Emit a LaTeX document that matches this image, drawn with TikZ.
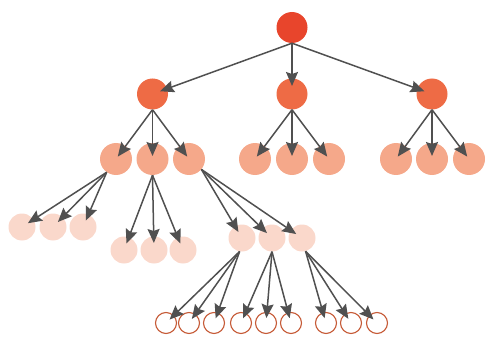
\documentclass[tikz,border=0pt]{standalone}
\usetikzlibrary{arrows.meta}
\definecolor{croot}{HTML}{E8452C}
\definecolor{cone}{HTML}{EE6B45}
\definecolor{ctwo}{HTML}{F5A88A}
\definecolor{cthree}{HTML}{FAD8CB}
\definecolor{cfour}{HTML}{C65A36}
\definecolor{carr}{HTML}{505050}
\begin{document}
\begin{tikzpicture}[x=1pt,y=-1pt,
  dot/.style={circle,inner sep=0pt,draw=none},
  lroot/.style={dot,fill=croot,minimum size=31pt},
  lone/.style={dot,fill=cone,minimum size=31pt},
  ltwo/.style={dot,fill=ctwo,minimum size=32pt},
  lthree/.style={dot,fill=cthree,minimum size=27pt},
  lfour/.style={circle,inner sep=0pt,draw=cfour,line width=1.1pt,fill=white,minimum size=21pt},
  arr/.style={draw=carr,line width=1.5pt,-{Stealth[length=14pt,width=12pt,inset=2pt]}}]
\useasboundingbox (0,0) rectangle (488,337);
% level 0
\node[lroot] (r) at (292,27.5) {};
% level 1
\node[lone] (a) at (152.5,94) {};
\node[lone] (b) at (292,94) {};
\node[lone] (c) at (432,94) {};
% level 2
\node[ltwo] (a1) at (116,159) {};
\node[ltwo] (a2) at (152.5,159) {};
\node[ltwo] (a3) at (189,159) {};
\node[ltwo] (b1) at (255,159) {};
\node[ltwo] (b2) at (292,159) {};
\node[ltwo] (b3) at (329,159) {};
\node[ltwo] (c1) at (396,159) {};
\node[ltwo] (c2) at (432,159) {};
\node[ltwo] (c3) at (469,159) {};
% level 3
\node[lthree] (a11) at (22,227) {};
\node[lthree] (a12) at (53,227) {};
\node[lthree] (a13) at (83,227) {};
\node[lthree] (a21) at (124,250) {};
\node[lthree] (a22) at (154,250) {};
\node[lthree] (a23) at (183,250) {};
\node[lthree] (a31) at (242,238) {};
\node[lthree] (a32) at (272,238) {};
\node[lthree] (a33) at (302,238) {};
% level 4
\node[lfour] (d1) at (166,323) {};
\node[lfour] (d2) at (189,323) {};
\node[lfour] (d3) at (214,323) {};
\node[lfour] (d4) at (241,323) {};
\node[lfour] (d5) at (266,323) {};
\node[lfour] (d6) at (291,323) {};
\node[lfour] (d7) at (326,323) {};
\node[lfour] (d8) at (351,323) {};
\node[lfour] (d9) at (377,323) {};
% arrows
\foreach \c in {a,b,c} \draw[arr,shorten >=8pt] (r.south) -- (\c.center);
\foreach \p in {a,b,c} \foreach \i in {1,2,3} \draw[arr,shorten >=3pt] (\p.south) -- (\p\i.center);
\foreach \i in {1,2,3} \draw[arr,shorten >=7pt] (a1.-125) -- (a1\i.center);
\foreach \i in {1,2,3} \draw[arr,shorten >=7pt] (a2.south) -- (a2\i.center);
\foreach \i in {1,2,3} \draw[arr,shorten >=7pt] (a3.-40) -- (a3\i.center);
\draw[arr,shorten >=5pt] (a31.-100) -- (d1.center);
\draw[arr,shorten >=5pt] (a31.-100) -- (d2.center);
\draw[arr,shorten >=5pt] (a31.-100) -- (d3.center);
\draw[arr,shorten >=5pt] (a32.south) -- (d4.center);
\draw[arr,shorten >=5pt] (a32.south) -- (d5.center);
\draw[arr,shorten >=5pt] (a32.south) -- (d6.center);
\draw[arr,shorten >=5pt] (a33.-75) -- (d7.center);
\draw[arr,shorten >=5pt] (a33.-75) -- (d8.center);
\draw[arr,shorten >=5pt] (a33.-75) -- (d9.center);
\end{tikzpicture}
\end{document}
